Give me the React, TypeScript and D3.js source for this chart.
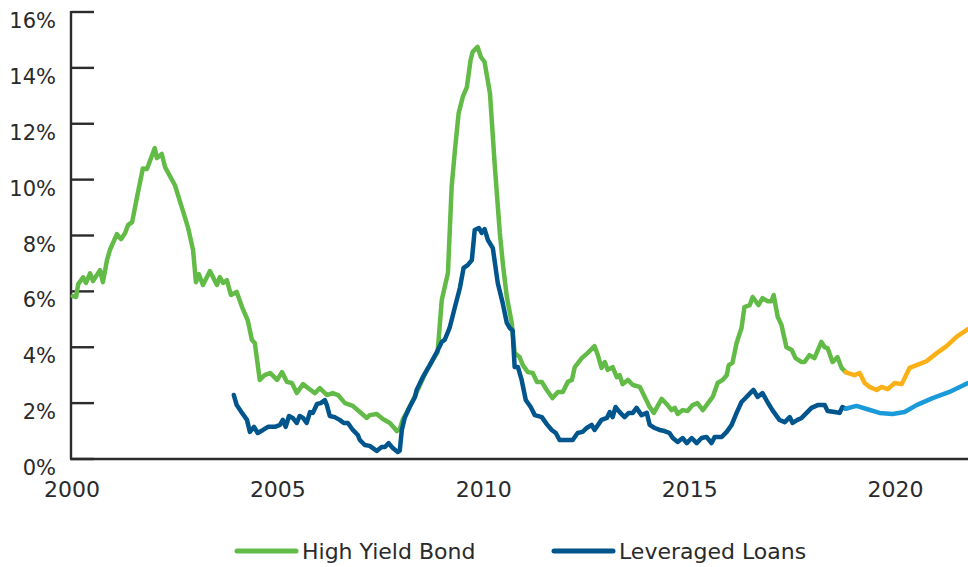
import React from "react";
import * as d3 from "d3";

const W = 968;
const H = 567;

// decimal year, percent
const highYield: [number, number][] = [
  [2000.02, 5.83], [2000.1, 5.8], [2000.15, 6.26], [2000.27, 6.5], [2000.34, 6.3], [2000.44, 6.65],
  [2000.51, 6.37], [2000.68, 6.76], [2000.75, 6.33], [2000.85, 7.12], [2000.92, 7.48], [2001.09, 8.05],
  [2001.19, 7.87], [2001.29, 8.09], [2001.36, 8.37], [2001.46, 8.48], [2001.58, 9.38], [2001.72, 10.4],
  [2001.82, 10.38], [2002.01, 11.13], [2002.06, 10.77], [2002.18, 10.92], [2002.26, 10.45], [2002.5, 9.8],
  [2002.69, 8.9], [2002.82, 8.27], [2002.94, 7.48], [2003.01, 6.33], [2003.08, 6.62], [2003.18, 6.23],
  [2003.35, 6.73], [2003.52, 6.23], [2003.59, 6.51], [2003.67, 6.3], [2003.76, 6.4], [2003.86, 5.87],
  [2004.0, 5.98], [2004.13, 5.44], [2004.27, 4.95], [2004.37, 4.26], [2004.44, 4.15], [2004.56, 2.83],
  [2004.68, 3.0], [2004.81, 3.08], [2004.98, 2.83], [2005.1, 3.11], [2005.22, 2.76], [2005.34, 2.72],
  [2005.46, 2.36], [2005.61, 2.68], [2005.73, 2.54], [2005.9, 2.36], [2006.02, 2.54], [2006.19, 2.29],
  [2006.33, 2.36], [2006.46, 2.29], [2006.63, 2.0], [2006.82, 1.9], [2006.99, 1.68], [2007.16, 1.47],
  [2007.23, 1.57], [2007.4, 1.61], [2007.55, 1.43], [2007.72, 1.29], [2007.89, 1.0], [2007.96, 1.07],
  [2008.03, 1.4], [2008.16, 1.75], [2008.28, 2.1], [2008.45, 2.65], [2008.62, 3.19], [2008.76, 3.54],
  [2008.88, 3.83], [2008.98, 5.69], [2009.13, 6.66], [2009.22, 9.74], [2009.3, 11.06], [2009.39, 12.38],
  [2009.49, 12.96], [2009.59, 13.31], [2009.68, 14.28], [2009.73, 14.57], [2009.85, 14.75], [2009.93, 14.39],
  [2010.02, 14.21], [2010.15, 13.1], [2010.27, 10.45], [2010.39, 8.09], [2010.47, 6.9], [2010.56, 5.8],
  [2010.68, 4.87], [2010.75, 3.79], [2010.87, 3.65], [2010.95, 3.36], [2011.07, 3.11], [2011.19, 3.08],
  [2011.29, 2.76], [2011.41, 2.76], [2011.53, 2.47], [2011.67, 2.18], [2011.8, 2.4], [2011.92, 2.4],
  [2012.04, 2.76], [2012.14, 2.83], [2012.21, 3.29], [2012.38, 3.61], [2012.52, 3.79], [2012.69, 4.04],
  [2012.77, 3.72], [2012.86, 3.26], [2012.94, 3.47], [2013.01, 3.19], [2013.13, 3.29], [2013.23, 2.93],
  [2013.3, 3.0], [2013.37, 2.68], [2013.5, 2.83], [2013.62, 2.65], [2013.79, 2.58], [2013.91, 2.22],
  [2014.03, 1.86], [2014.13, 1.65], [2014.32, 2.15], [2014.44, 1.97], [2014.56, 1.75], [2014.64, 1.83],
  [2014.71, 1.61], [2014.83, 1.75], [2014.95, 1.72], [2015.07, 1.93], [2015.19, 2.0], [2015.32, 1.75],
  [2015.41, 1.93], [2015.56, 2.22], [2015.68, 2.72], [2015.8, 2.83], [2015.9, 3.0], [2015.95, 3.36],
  [2016.04, 3.44], [2016.14, 4.15], [2016.26, 4.69], [2016.33, 5.44], [2016.46, 5.51], [2016.53, 5.8],
  [2016.67, 5.51], [2016.77, 5.76], [2016.89, 5.65], [2016.99, 5.65], [2017.04, 5.87], [2017.14, 5.08],
  [2017.23, 4.8], [2017.35, 4.0], [2017.48, 3.9], [2017.57, 3.61], [2017.72, 3.47], [2017.79, 3.47],
  [2017.91, 3.72], [2018.03, 3.61], [2018.2, 4.19], [2018.28, 4.0], [2018.35, 3.97], [2018.47, 3.47],
  [2018.59, 3.65], [2018.69, 3.26], [2018.79, 3.11],
];

const highYieldForecast: [number, number][] = [
  [2018.79, 3.11], [2018.83, 3.08], [2019.0, 3.0], [2019.13, 3.08], [2019.25, 2.72], [2019.37, 2.58],
  [2019.54, 2.47], [2019.66, 2.58], [2019.81, 2.5], [2019.98, 2.72], [2020.15, 2.68], [2020.34, 3.26],
  [2020.51, 3.36], [2020.75, 3.5], [2021.0, 3.79], [2021.24, 4.04], [2021.48, 4.37], [2021.76, 4.65],
];

const leveragedLoans: [number, number][] = [
  [2003.93, 2.29], [2004.0, 1.93], [2004.13, 1.65], [2004.25, 1.4], [2004.32, 0.97], [2004.42, 1.15],
  [2004.51, 0.93], [2004.64, 1.04], [2004.76, 1.15], [2004.93, 1.15], [2005.05, 1.22], [2005.12, 1.4],
  [2005.19, 1.15], [2005.27, 1.54], [2005.36, 1.47], [2005.46, 1.29], [2005.53, 1.54], [2005.61, 1.47],
  [2005.7, 1.29], [2005.78, 1.68], [2005.85, 1.65], [2005.95, 1.97], [2006.04, 2.0], [2006.14, 2.11],
  [2006.19, 1.93], [2006.26, 1.54], [2006.38, 1.5], [2006.5, 1.4], [2006.6, 1.29], [2006.7, 1.29],
  [2006.82, 1.04], [2006.94, 0.86], [2006.99, 0.68], [2007.11, 0.5], [2007.23, 0.47], [2007.4, 0.29],
  [2007.52, 0.43], [2007.6, 0.43], [2007.69, 0.57], [2007.79, 0.39], [2007.91, 0.25], [2007.96, 0.3],
  [2008.01, 1.04], [2008.08, 1.47], [2008.2, 1.86], [2008.33, 2.22], [2008.37, 2.47], [2008.52, 2.93],
  [2008.69, 3.36], [2008.86, 3.83], [2008.98, 4.19], [2009.05, 4.26], [2009.17, 4.69], [2009.3, 5.44],
  [2009.42, 6.12], [2009.51, 6.84], [2009.61, 6.94], [2009.71, 7.12], [2009.78, 8.2], [2009.88, 8.27],
  [2009.95, 8.09], [2010.02, 8.23], [2010.1, 7.84], [2010.22, 7.55], [2010.34, 6.3], [2010.46, 5.58],
  [2010.56, 4.87], [2010.63, 4.69], [2010.7, 4.6], [2010.75, 3.29], [2010.83, 3.29], [2010.92, 2.83],
  [2011.02, 2.11], [2011.14, 1.86], [2011.24, 1.57], [2011.41, 1.5], [2011.53, 1.25], [2011.65, 1.04],
  [2011.75, 0.93], [2011.84, 0.68], [2012.16, 0.68], [2012.28, 0.93], [2012.4, 0.97], [2012.5, 1.11],
  [2012.62, 1.22], [2012.69, 1.04], [2012.86, 1.4], [2012.99, 1.47], [2013.06, 1.68], [2013.13, 1.5],
  [2013.2, 1.86], [2013.3, 1.68], [2013.42, 1.5], [2013.52, 1.65], [2013.62, 1.65], [2013.71, 1.83],
  [2013.83, 1.57], [2013.96, 1.65], [2014.03, 1.22], [2014.15, 1.11], [2014.27, 1.04], [2014.39, 1.0],
  [2014.51, 0.93], [2014.59, 0.75], [2014.71, 0.61], [2014.83, 0.75], [2014.93, 0.57], [2015.05, 0.75],
  [2015.17, 0.57], [2015.29, 0.75], [2015.41, 0.79], [2015.53, 0.57], [2015.61, 0.79], [2015.78, 0.79],
  [2015.9, 0.97], [2016.02, 1.22], [2016.14, 1.65], [2016.26, 2.04], [2016.38, 2.22], [2016.5, 2.4],
  [2016.55, 2.47], [2016.65, 2.22], [2016.77, 2.36], [2016.89, 2.04], [2017.01, 1.75], [2017.18, 1.4],
  [2017.31, 1.32], [2017.43, 1.5], [2017.5, 1.29], [2017.62, 1.4], [2017.72, 1.47], [2017.84, 1.65],
  [2017.96, 1.83], [2018.11, 1.93], [2018.28, 1.93], [2018.35, 1.72], [2018.52, 1.68], [2018.64, 1.65],
  [2018.71, 1.86], [2018.79, 1.8],
];

const leveragedLoansForecast: [number, number][] = [
  [2018.79, 1.8], [2019.05, 1.9], [2019.3, 1.79], [2019.61, 1.65], [2019.93, 1.61], [2020.22, 1.68],
  [2020.51, 1.93], [2020.9, 2.18], [2021.31, 2.4], [2021.76, 2.72],
];

const yTicks = [0, 2, 4, 6, 8, 10, 12, 14, 16];
const xTicks = [2000, 2005, 2010, 2015, 2020];
const legendItems = [
  { label: "High Yield Bond", color: "#62bb46" },
  { label: "Leveraged Loans", color: "#00558c" },
];

const FONT = "'DejaVu Sans', sans-serif";
const TEXT = "#2a2a2a";

export default function App() {
  const x = d3.scaleLinear().domain([2000, 2021.76]).range([72, 968]);
  const y = d3.scaleLinear().domain([0, 16]).range([459, 12]);
  const line = d3
    .line<[number, number]>()
    .x((d) => x(d[0]))
    .y((d) => y(d[1]))
    .curve(d3.curveLinear);

  const series = [
    { data: highYield, color: "#62bb46" },
    { data: leveragedLoans, color: "#00558c" },
    { data: highYieldForecast, color: "#fbb116" },
    { data: leveragedLoansForecast, color: "#1b9ad9" },
  ];

  return (
    <svg
      width={W}
      height={H}
      style={{ position: "absolute", left: 0, top: 0, background: "#fff" }}
      fontFamily={FONT}
    >
      {/* y axis */}
      <line x1={71} x2={71} y1={y(16) - 1} y2={y(0)} stroke="#2b2b2b" strokeWidth={2.4} />
      {yTicks.map((t) => (
        <g key={t}>
          <line x1={71} x2={94} y1={y(t)} y2={y(t)} stroke="#2b2b2b" strokeWidth={2.4} />
          <text x={56} y={y(t) + 16} textAnchor="end" fontSize={21} fill={TEXT}>
            {t}%
          </text>
        </g>
      ))}
      {/* x axis */}
      <line x1={70} x2={968} y1={y(0)} y2={y(0)} stroke="#2b2b2b" strokeWidth={2.4} />
      {xTicks.map((t) => (
        <text key={t} x={x(t)} y={497} textAnchor="middle" fontSize={22} fill={TEXT}>
          {t}
        </text>
      ))}
      {series.map((s, i) => (
        <path
          key={i}
          d={line(s.data) || ""}
          fill="none"
          stroke={s.color}
          strokeWidth={4.5}
          strokeLinejoin="round"
          strokeLinecap="round"
        />
      ))}
      {/* legend */}
      {legendItems.map((l, i) => {
        const lx = i === 0 ? 237 : 554;
        return (
          <g key={l.label}>
            <line x1={lx} x2={lx + 59} y1={551} y2={551} stroke={l.color} strokeWidth={5} strokeLinecap="round" />
            <text x={lx + 65} y={559} fontSize={22} fill={TEXT}>
              {l.label}
            </text>
          </g>
        );
      })}
    </svg>
  );
}
